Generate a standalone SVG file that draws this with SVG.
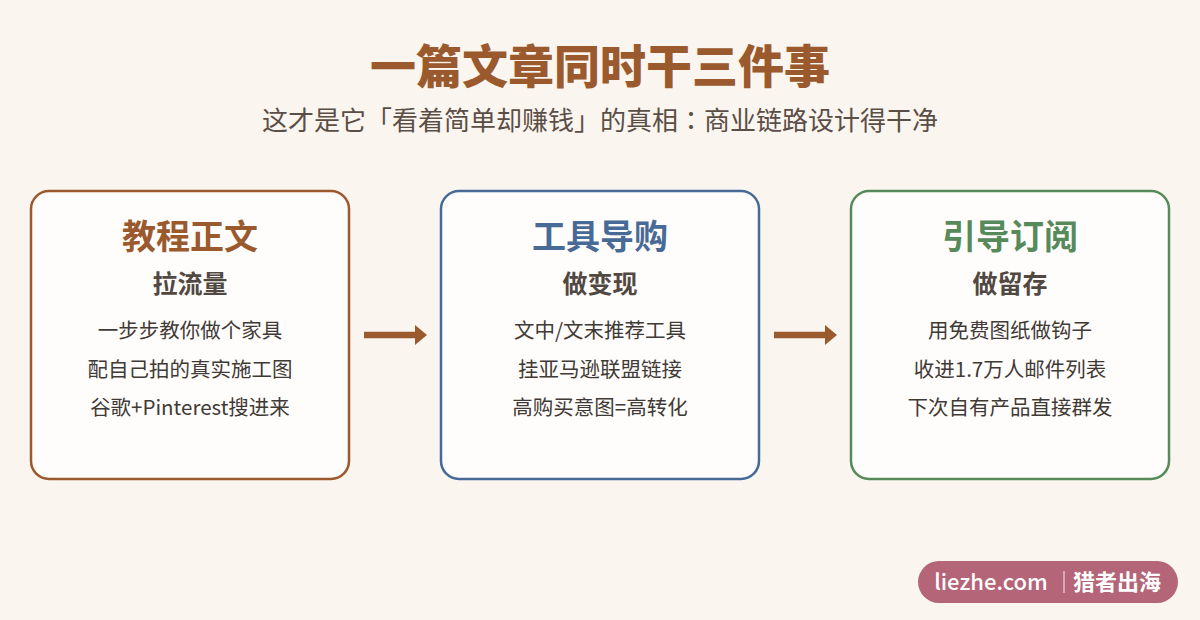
<svg xmlns="http://www.w3.org/2000/svg" width="1200" height="620" viewBox="0 0 1200 620">
<defs>
<style>
text{font-family:"Noto Sans CJK SC","Noto Sans",sans-serif;text-anchor:middle}
.box{fill:#fffdfb;stroke-width:2.5}
.h{font-size:34px;font-weight:700}
.s{font-size:25px;font-weight:700;fill:#524842}
.b{font-size:20.5px;fill:#3f3a36}
.conn{stroke:#9a5a2e;stroke-width:6.5;fill:none}
</style>
<marker id="ah" markerWidth="12" markerHeight="20" refX="0" refY="10" markerUnits="userSpaceOnUse" orient="auto"><path d="M0,0 L12,10 L0,20 Z" fill="#9a5a2e"/></marker>
</defs>
<rect width="1200" height="620" fill="#faf5ef"/>
<text x="600" y="83" style="font-size:46px;font-weight:900;fill:#9a5a2e">一篇文章同时干三件事</text>
<text x="600" y="130" style="font-size:26px;fill:#5a4e46">这才是它「看着简单却赚钱」的真相<tspan style="font-family:'Noto Sans CJK TC',sans-serif">：</tspan>商业链路设计得干净</text>
<g id="node1">
<rect class="box" x="31" y="191" width="318" height="288" rx="18" stroke="#9a5a2e"/>
<text class="h" x="190" y="249" fill="#9a5a2e">教程正文</text>
<text class="s" x="190" y="293">拉流量</text>
<text class="b" x="190" y="338">一步步教你做个家具</text>
<text class="b" x="190" y="377">配自己拍的真实施工图</text>
<text class="b" x="190" y="415">谷歌+Pinterest搜进来</text>
</g>
<g id="node2">
<rect class="box" x="441" y="191" width="318" height="288" rx="18" stroke="#486a96"/>
<text class="h" x="600" y="249" fill="#486a96">工具导购</text>
<text class="s" x="600" y="293">做变现</text>
<text class="b" x="600" y="338">文中/文末推荐工具</text>
<text class="b" x="600" y="377">挂亚马逊联盟链接</text>
<text class="b" x="600" y="415">高购买意图=高转化</text>
</g>
<g id="node3">
<rect class="box" x="851" y="191" width="318" height="288" rx="18" stroke="#578a5a"/>
<text class="h" x="1010" y="249" fill="#578a5a">引导订阅</text>
<text class="s" x="1010" y="293">做留存</text>
<text class="b" x="1010" y="338">用免费图纸做钩子</text>
<text class="b" x="1010" y="377">收进1.7万人邮件列表</text>
<text class="b" x="1010" y="415">下次自有产品直接群发</text>
</g>
<g id="connectors">
<line class="conn" x1="364" y1="335" x2="415" y2="335" marker-end="url(#ah)"/>
<line class="conn" x1="774" y1="335" x2="825" y2="335" marker-end="url(#ah)"/>
</g>
<g id="badge">
<rect x="918" y="561" width="260" height="42" rx="21" fill="#b46577"/>
<text x="991" y="590" style="font-size:22px;font-weight:500;fill:#ffffff">liezhe.com</text>
<line x1="1064" y1="571" x2="1064" y2="593" stroke="#e6bcc6" stroke-width="1.5"/>
<text x="1117" y="590" style="font-size:22px;font-weight:700;fill:#ffffff">猎者出海</text>
</g>
</svg>
